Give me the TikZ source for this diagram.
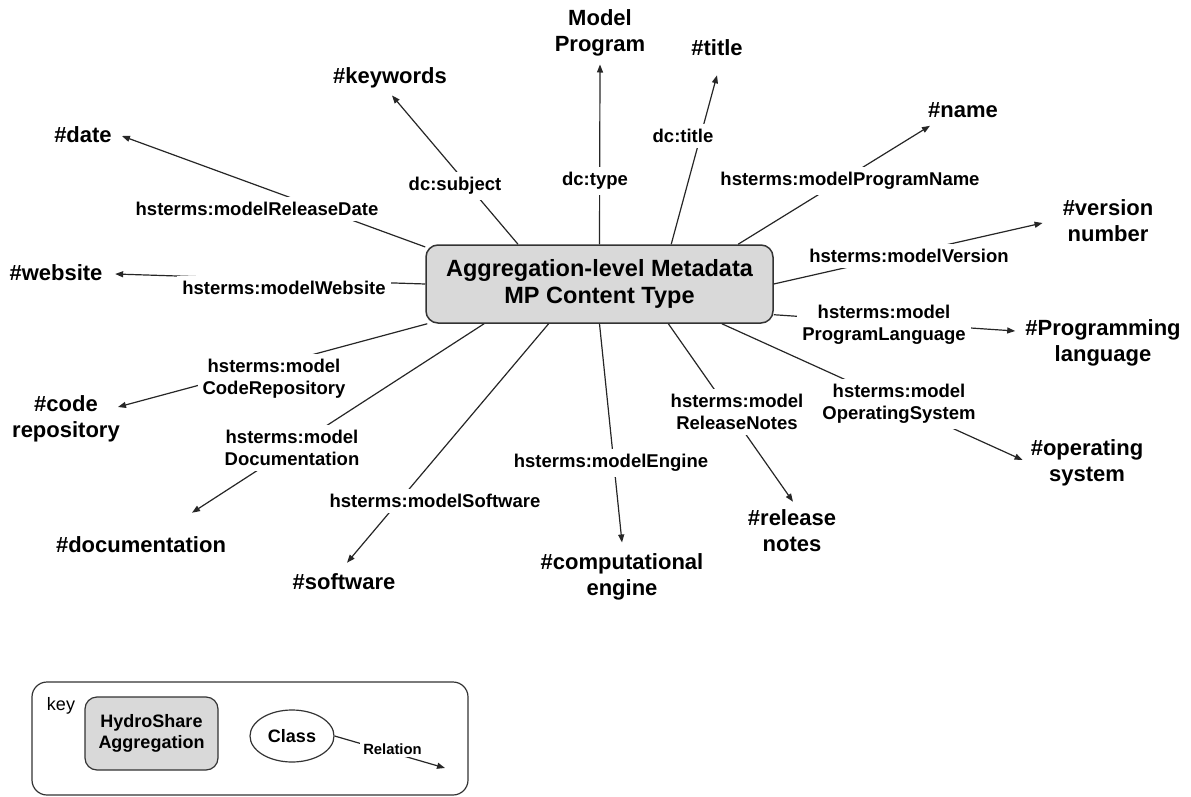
\documentclass[tikz,border=0pt]{standalone}
\usepackage{fontspec}
\setmainfont{Liberation Sans}
\usetikzlibrary{arrows.meta,calc,shapes.geometric}

\begin{document}
\begin{tikzpicture}[x=1pt,y=-1pt,
  mainbox/.style={draw=black!80, fill=gray!30, line width=1.5pt, rounded corners=12pt,
    minimum width=347pt, minimum height=78pt, inner sep=0pt, align=center,
    font=\fontsize{23.5}{27}\selectfont\bfseries},
  cls/.style={inner sep=0pt, align=center, font=\fontsize{22}{26}\selectfont\bfseries},
  rel/.style={fill=white, inner sep=5pt, align=center, font=\fontsize{18.5}{22}\selectfont\bfseries},
  relarrow/.style={draw=black!85, line width=1.2pt, -{Triangle[length=8pt,width=6pt]}},
  keyframe/.style={draw=black!80, line width=1.2pt, rounded corners=15pt},
]
\useasboundingbox (0,0) rectangle (1191,797);

% central aggregation
\node[mainbox] (main) at (599.5,284) {Aggregation-level Metadata\\MP Content Type};

% classes
\node[cls] (c-date)     at (83,135)   {\#date};
\node[cls] (c-keywords) at (390,78)   {\#keywords};
\node[cls] (c-type)     at (600,33)   {Model\\Program};
\node[cls] (c-title)    at (717,48)   {\#title};
\node[cls] (c-name)     at (963,110)  {\#name};
\node[cls] (c-version)  at (1108,221) {\#version\\number};
\node[cls] (c-lang)     at (1103,343) {\#Programming\\language};
\node[cls] (c-os)       at (1087,463) {\#operating\\system};
\node[cls] (c-notes)    at (792,531)  {\#release\\notes};
\node[cls] (c-engine)   at (622,577)  {\#computational\\engine};
\node[cls] (c-software) at (344,582)  {\#software};
\node[cls] (c-doc)      at (141,545)  {\#documentation};
\node[cls] (c-code)     at (66,419)   {\#code\\repository};
\node[cls] (c-website)  at (56,273)   {\#website};

% relations
\draw[relarrow] (main.168.66) -- ([shift={(10,1)}]c-date.east);
\draw[relarrow] (main.154.4)  -- ([shift={(2,7)}]c-keywords.south);
\draw[relarrow] (main.90)     -- ([shift={(0,8)}]c-type.south);
\draw[relarrow] (main.29.66)  -- ([shift={(0,19)}]c-title.south);
\draw[relarrow] (main.16.4)   -- ([shift={(2,8)}]c-name.south west);
\draw[relarrow] (main.0)      -- ([shift={(-20,2)}]c-version.west);
\draw[relarrow] (main.-10.83) -- ([shift={(-10,-12)}]c-lang.west);
\draw[relarrow] (main.-18.2)  -- ([shift={(-8,-3)}]c-os.west);
\draw[relarrow] (main.-30)    -- ([shift={(1,-8)}]c-notes.north);
\draw[relarrow] (main.-90)    -- ([shift={(0,-11)}]c-engine.north);
\draw[relarrow] (main.218.2)  -- ([shift={(3,-11)}]c-software.north);
\draw[relarrow] (main.199.9)  -- ([shift={(51,-24)}]c-doc.north);
\draw[relarrow] (main.193.2)  -- ([shift={(-2,-12)}]c-code.east);
\draw[relarrow] (main.180)    -- ([shift={(12.5,1)}]c-website.east);

% relation labels
\node[rel] (l-date)     at (257,209) {hsterms:modelReleaseDate};
\node[rel] (l-subject)  at (455,186) {dc:subject};
\node[rel] (l-type)     at (595,181) {dc:type};
\node[rel] (l-title)    at (683,136) {dc:title};
\node[rel] (l-name)     at (850,181) {hsterms:modelProgramName};
\node[rel] (l-version)  at (909,256) {hsterms:modelVersion};
\node[rel] (l-lang)     at (884,325) {hsterms:model\\ProgramLanguage};
\node[rel] (l-os)       at (899,404) {hsterms:model\\OperatingSystem};
\node[rel] (l-notes)    at (737,412) {hsterms:model\\ReleaseNotes};
\node[rel] (l-engine)   at (611,463) {hsterms:modelEngine};
\node[rel] (l-software) at (435,501) {hsterms:modelSoftware};
\node[rel] (l-doc)      at (292,448) {hsterms:model\\Documentation};
\node[rel] (l-code)     at (274,379) {hsterms:model\\CodeRepository};
\node[rel] (l-website)  at (284,288) {hsterms:modelWebsite};

% key
\node[keyframe, minimum width=436pt, minimum height=113pt] (keybox) at (250,738.5) {};
\node[font=\fontsize{18}{21}\selectfont, inner sep=0pt] (keyword) at (61,706) {key};
\node[draw=black!80, fill=gray!30, line width=1.2pt, rounded corners=12pt,
      minimum width=133pt, minimum height=73pt, align=center, inner sep=0pt,
      font=\fontsize{18}{21}\selectfont\bfseries] (keyagg) at (151.5,733.5) {HydroShare\\Aggregation};
\node[draw=black!80, line width=1.2pt, ellipse, minimum width=84pt, minimum height=52pt,
      inner sep=0pt, font=\fontsize{18}{21}\selectfont\bfseries] (keycls) at (292,736) {Class};
\coordinate (keytip) at (445,768);
\draw[relarrow] (keycls.east) -- (keytip);
\node[fill=white, inner sep=3pt, font=\fontsize{14.8}{17}\selectfont\bfseries] (keyrel) at (392.5,749) {Relation};
\end{tikzpicture}
\end{document}
